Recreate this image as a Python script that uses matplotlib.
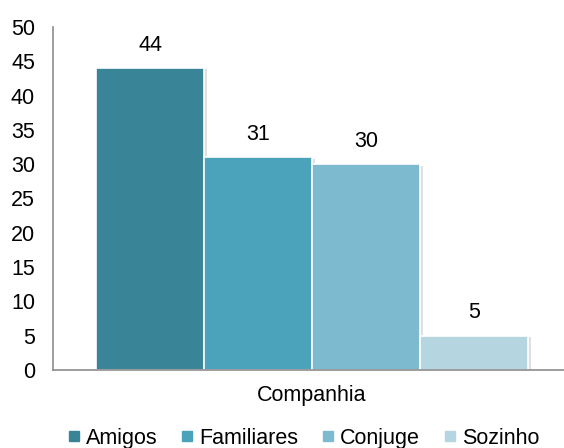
import matplotlib.pyplot as plt
import matplotlib.patheffects as pe
from matplotlib.lines import Line2D

plt.rcParams['font.family'] = ['Liberation Sans', 'DejaVu Sans']

categorias = ["Amigos", "Familiares", "Conjuge", "Sozinho"]
valores = [44, 31, 30, 5]
cores = ["#3A8497", "#4AA3BB", "#7EBACF", "#B5D5E0"]

fig = plt.figure(figsize=(5.64, 4.48), dpi=100)
ax = fig.add_axes([0.094, 0.174, 0.906, 0.766])

posicoes = list(range(len(valores)))
sombra = [pe.SimplePatchShadow(offset=(2, -1), shadow_rgbFace="#999999", alpha=0.3), pe.Normal()]
barras = ax.bar(posicoes, valores, width=1.0, color=cores, edgecolor="white", linewidth=1.2, zorder=2)
for b in barras:
    b.set_path_effects(sombra)

for x, v in zip(posicoes, valores):
    ax.annotate(str(v), (x, v), xytext=(0, 9), textcoords="offset points",
                ha="center", va="bottom", fontsize=15.5)

ax.set_xlim(-0.898, 3.833)
ax.set_ylim(0, 50)
ax.set_yticks(range(0, 51, 5))
ax.set_xticks([1.5])
ax.set_xticklabels(["Companhia"])
ax.tick_params(axis="both", length=0, labelsize=15.5)
ax.tick_params(axis="y", pad=13)
ax.tick_params(axis="x", pad=11)

for s in ["top", "right"]:
    ax.spines[s].set_visible(False)
for s in ["left", "bottom"]:
    ax.spines[s].set_color("#8C8C8C")
    ax.spines[s].set_linewidth(1.2)

handles = [Line2D([], [], marker="s", linestyle="none", markersize=7, color=c) for c in cores]
fig.legend(handles, categorias, loc="center", bbox_to_anchor=(0.537, 0.022), ncol=4,
           frameon=False, fontsize=15.5, handletextpad=0.2, columnspacing=1.05, handlelength=0.7)

fig.savefig("out.png", dpi=100)
